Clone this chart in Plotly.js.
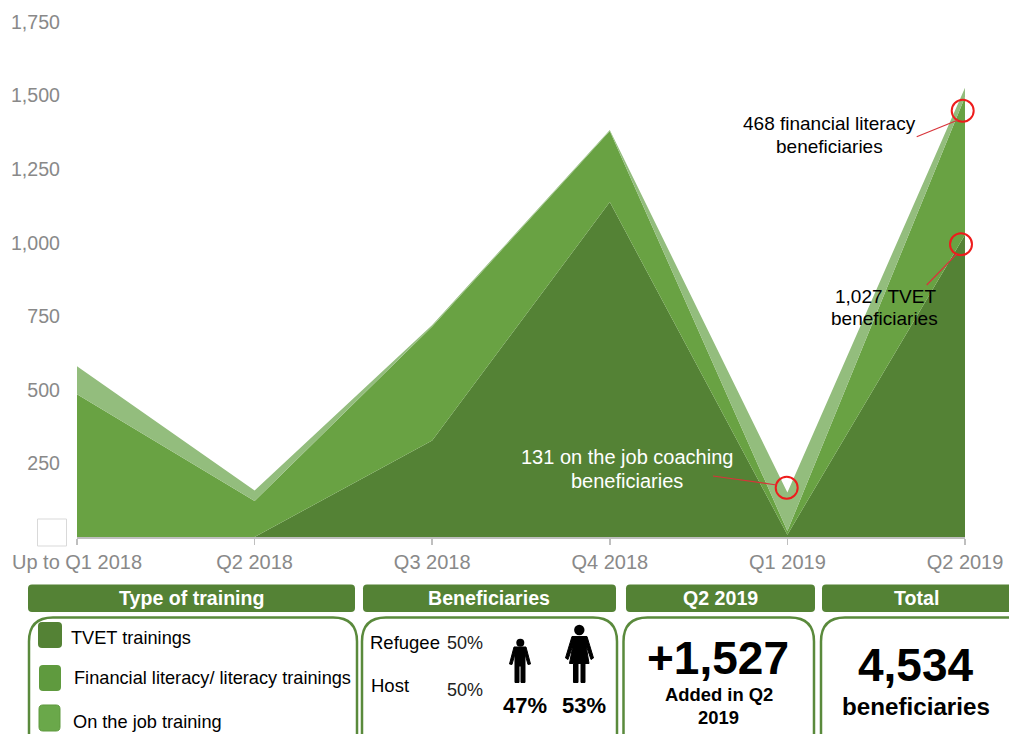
<!DOCTYPE html>
<html><head><meta charset="utf-8">
<script src="https://cdn.plot.ly/plotly-3.0.1.min.js"></script>
<style>html,body{margin:0;padding:0;background:#fff;overflow:hidden}</style></head>
<body><div id="chart" style="width:1009px;height:734px"></div>
<script>
const categories = ['Up to Q1 2018','Q2 2018','Q3 2018','Q4 2018','Q1 2019','Q2 2019'];
const tvet = [0,0,328,1138,8,1027];
const financial = [485,122,387,242,12,468];
const onJob = [95,36,5,3,131,32];
const yTicks = [250,500,750,1000,1250,1500,1750];
const seriesNames = ['TVET trainings','Financial literacy/ literacy trainings','On the job training'];

const W=1009,H=734,L=77,R=965,T=22,B=537;
const DARK='#548235',MID='#69a243',LIGHT='#93bd7d',FONT='"Liberation Sans",Arial,sans-serif';
const px=x=>(x-L)/(R-L), py=y=>(B-y)/(B-T);
const shapes=[],annotations=[];
function rr(x0,y0,x1,y1,r){const X=v=>px(v).toFixed(5),Y=v=>py(v).toFixed(5);
 return `M${X(x0+r)},${Y(y0)} L${X(x1-r)},${Y(y0)} Q${X(x1)},${Y(y0)} ${X(x1)},${Y(y0+r)} L${X(x1)},${Y(y1-r)} Q${X(x1)},${Y(y1)} ${X(x1-r)},${Y(y1)} L${X(x0+r)},${Y(y1)} Q${X(x0)},${Y(y1)} ${X(x0)},${Y(y1-r)} L${X(x0)},${Y(y0+r)} Q${X(x0)},${Y(y0)} ${X(x0+r)},${Y(y0)} Z`;}
function box(x0,y0,x1,y1,r,fill,line,w){shapes.push({type:'path',xref:'paper',yref:'paper',path:rr(x0,y0,x1,y1,r),fillcolor:fill,line:{color:line||fill,width:w===undefined?1:w}});}
function txt(x,y,t,size,color,bold,anchor){annotations.push({xref:'paper',yref:'paper',x:px(x),y:py(y),text:bold?`<b>${t}</b>`:t,showarrow:false,xanchor:anchor||'center',yanchor:'middle',font:{family:FONT,size:size,color:color||'#000'},borderpad:0,borderwidth:0});}
function circle(cx,cy,r){shapes.push({type:'circle',xref:'paper',yref:'paper',x0:px(cx-r),x1:px(cx+r),y0:py(cy+r),y1:py(cy-r),line:{color:'#ee1c1c',width:2},fillcolor:'rgba(0,0,0,0)'});}
function seg(x0,y0,x1,y1){shapes.push({type:'line',xref:'paper',yref:'paper',x0:px(x0),x1:px(x1),y0:py(y0),y1:py(y1),line:{color:'#d8343a',width:1.2}});}
function poly(pts){shapes.push({type:'path',xref:'paper',yref:'paper',path:'M'+pts.map(p=>px(p[0]).toFixed(5)+','+py(p[1]).toFixed(5)).join(' L')+' Z',fillcolor:'#000',line:{color:'#000',width:1}});}
function dot(cx,cy,r){shapes.push({type:'circle',xref:'paper',yref:'paper',x0:px(cx-r),x1:px(cx+r),y0:py(cy+r),y1:py(cy-r),fillcolor:'#000',line:{width:0}});}

// white square covering the zero label
shapes.push({type:'rect',xref:'paper',yref:'paper',x0:px(37.5),x1:px(66.5),y0:py(546),y1:py(519),fillcolor:'#fff',line:{color:'#d9d9d9',width:1}});

// callouts
circle(962.7,110.7,11);circle(961,244.3,11);circle(786.7,487.7,11);
seg(916.7,136.7,958,120);seg(926.7,285,956.7,254);seg(713,476,776.7,485);
txt(829,124,'468 financial literacy',19);txt(829,146,'beneficiaries',19);
txt(885,296,'1,027 TVET',19);txt(884,319,'beneficiaries',19);
txt(626.5,457,'131 on the job coaching',20);txt(626.5,481,'beneficiaries',20);
annotations[annotations.length-1].font.color='#fff';annotations[annotations.length-2].font.color='#fff';

// headers
[[28,355,'Type of training'],[363,616,'Beneficiaries'],[626,815,'Q2 2019'],[822,1020,'Total']].forEach(h=>{
 box(h[0],584.5,h[1],612,4,DARK,DARK,0);
 txt((h[0]+Math.min(h[1],1009))/2+(h[2]==='Total'?1:0)-(h[2]==='Beneficiaries'?0.5:0),598,h[2],19.6,'#fff',true);
});
// panels
[[29,357],[362,617],[623.5,814],[821,1030]].forEach(p=>box(p[0],617.5,p[1],760,24,'#fff','#5a8a3c',2.5));
// legend
box(38,622,62,648,4,DARK,DARK,0);box(39,665,61,691,4,'#5f9a3e','#5f9a3e',0);box(39,705,60,731,4,'#6aa84a','#5f9a3e',1);
txt(71,637.5,seriesNames[0],18.2,'#000',false,'left');
txt(73.5,678,seriesNames[1],18.2,'#000',false,'left');
txt(72.5,721.5,seriesNames[2],18.2,'#000',false,'left');
// beneficiaries
txt(370,642.5,'Refugee',18.5,'#000',false,'left');txt(447,643,'50%',18,'#222',false,'left');
txt(371,685,'Host',18.5,'#000',false,'left');txt(447,690,'50%',18,'#222',false,'left');
txt(525,705,'47%',22,'#000',true);txt(584,705,'53%',22,'#000',true);
// pictograms
dot(520.3,642.7,4);
poly([[514,647],[526,647],[530.5,664],[528,664.5],[525,654],[525,682.5],[521,682.5],[521,666],[519,666],[519,682.5],[515,682.5],[515,654],[512,664.5],[509.5,664]]);
dot(579.3,630,5.2);
poly([[572,636.5],[587,636.5],[593.5,658],[591,659.5],[586,645],[589,663.5],[585,663.5],[585,682.5],[581,682.5],[581,663.5],[578,663.5],[578,682.5],[573.5,682.5],[573.5,663.5],[569.5,663.5],[573,645],[568,659.5],[565.5,658]]);
// Q2 + total
txt(718,658,'+1,527',46,'#000',true);txt(719,694.5,'Added in Q2',18.4,'#000',true);txt(718,717,'2019',18.4,'#000',true);
txt(915.5,664.5,'4,534',46,'#000',true);txt(915.5,706.5,'beneficiaries',24.2,'#000',true);

const stack=(y,name,color)=>({type:'scatter',mode:'none',x:categories,y:y,name:name,stackgroup:'one',fillcolor:color,line:{width:0},hoverinfo:'x+y+name'});
Plotly.newPlot('chart',[stack(tvet,seriesNames[0],DARK),stack(financial,seriesNames[1],MID),stack(onJob,seriesNames[2],LIGHT)],{
 width:W,height:H,margin:{l:L,r:W-R,t:T,b:H-B,pad:0},showlegend:false,paper_bgcolor:'#fff',plot_bgcolor:'#fff',
 xaxis:{type:'category',categoryorder:'array',categoryarray:categories,range:[0,5],showgrid:false,zeroline:false,showline:true,linecolor:'#bfbfbf',linewidth:2,ticks:'outside',ticklen:6,tickwidth:1.5,tickcolor:'#bfbfbf',tickangle:0,
  tickfont:{family:FONT,size:20,color:'#898989'}},
 yaxis:{range:[0,1750],tickvals:yTicks,tickformat:',d',showgrid:false,zeroline:false,showline:false,ticks:'',ticklabelstandoff:16,tickfont:{family:FONT,size:19.6,color:'#898989'},automargin:false},
 shapes,annotations
},{displayModeBar:false,staticPlot:true});
</script></body></html>
